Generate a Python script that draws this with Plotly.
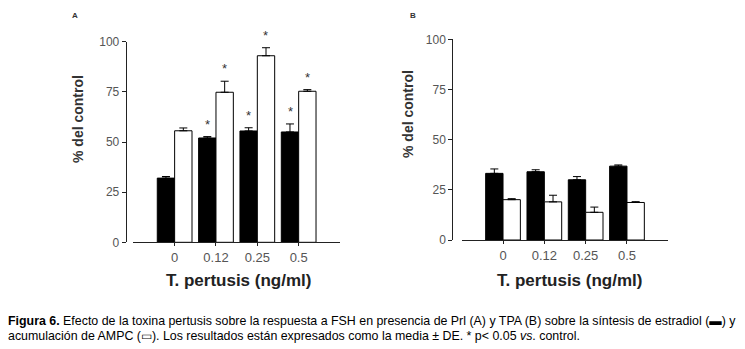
import plotly.graph_objects as go

W, H = 745, 349

categories = ["0", "0.12", "0.25", "0.5"]

# Panel A (Prl)
a_estradiol = [32.0, 52.0, 55.5, 55.0]
a_estradiol_err = [0.8, 0.7, 1.6, 4.0]
a_ampc = [55.6, 74.8, 93.0, 75.3]
a_ampc_err = [1.4, 5.5, 4.0, 0.8]
a_sig_estradiol = [False, True, True, True]
a_sig_ampc = [False, True, True, True]

# Panel B (TPA)
b_estradiol = [33.2, 34.0, 30.0, 36.8]
b_estradiol_err = [2.2, 1.0, 1.6, 0.6]
b_ampc = [20.1, 19.0, 13.8, 18.7]
b_ampc_err = [0.5, 3.3, 2.6, 0.4]

y_ticks = [0, 25, 50, 75, 100]

def px_x(p):
    return p / W

def px_y(p):
    return 1 - p / H

fig = go.Figure()

def add_panel(xa, ya, est, est_err, amp, amp_err):
    fig.add_trace(go.Bar(
        x=categories, y=est, xaxis=xa, yaxis=ya,
        marker=dict(color="black", line=dict(color="black", width=1)),
        error_y=dict(type="data", array=est_err, arrayminus=[0]*len(est_err),
                     symmetric=False, color="black", thickness=1, width=4),
        showlegend=False))
    fig.add_trace(go.Bar(
        x=categories, y=amp, xaxis=xa, yaxis=ya,
        marker=dict(color="white", line=dict(color="black", width=1)),
        error_y=dict(type="data", array=amp_err, arrayminus=[0]*len(amp_err),
                     symmetric=False, color="black", thickness=1, width=4),
        showlegend=False))

add_panel("x", "y", a_estradiol, a_estradiol_err, a_ampc, a_ampc_err)
add_panel("x2", "y2", b_estradiol, b_estradiol_err, b_ampc, b_ampc_err)

tickfont = dict(family="Liberation Sans, Arial", size=12, color="#555")

def xaxis_cfg(domain, anchor):
    return dict(domain=domain, anchor=anchor, type="category", range=[-1, 4],
                automargin=False,
                showline=True, linecolor="#222", linewidth=1,
                ticks="outside", ticklen=3, tickcolor="#222",
                tickfont=dict(family="Liberation Sans, Arial", size=13, color="#555"),
                showgrid=False, zeroline=False)

def yaxis_cfg(domain, pos):
    return dict(domain=domain, anchor="free", position=pos, range=[0, 100],
                automargin=False,
                tickvals=y_ticks, showline=True, linecolor="#222", linewidth=1,
                ticks="outside", ticklen=4, tickcolor="#222", tickfont=tickfont,
                showgrid=False, zeroline=False)

fig.update_layout(
    width=W, height=H,
    margin=dict(l=0, r=0, t=0, b=0, autoexpand=False),
    paper_bgcolor="white", plot_bgcolor="white",
    barmode="group", bargap=0.16, bargroupgap=0,
    xaxis=xaxis_cfg([px_x(133.3), px_x(340)], "y"),
    yaxis=yaxis_cfg([px_y(242.3), px_y(41.7)], px_x(125.7)),
    xaxis2=xaxis_cfg([px_x(461.7), px_x(668.3)], "y2"),
    yaxis2=yaxis_cfg([px_y(240), px_y(39.3)], px_x(452.3)),
)

# significance asterisks (x given as category index)
def add_stars(xref, yref, vals, errs, sig, shift):
    for i, (v, e, s) in enumerate(zip(vals, errs, sig)):
        if s:
            fig.add_annotation(x=i, y=v + e, xref=xref, yref=yref, text="*",
                               showarrow=False, xshift=shift, yshift=3,
                               xanchor="center", yanchor="bottom",
                               font=dict(family="Liberation Sans, Arial", size=13, color="#333"))

add_stars("x", "y", a_estradiol, a_estradiol_err, a_sig_estradiol, -8.5)
add_stars("x", "y", a_ampc, a_ampc_err, a_sig_ampc, 8.5)

# x-axis titles
for xp in [238, 569]:
    fig.add_annotation(x=px_x(xp), y=px_y(280), xref="paper", yref="paper",
                       xanchor="center", yanchor="middle",
                       text="<b>T. pertusis (ng/ml)</b>", showarrow=False,
                       font=dict(family="Liberation Sans, Arial", size=17, color="#222"))

# y-axis titles
for xp, yp in [(78, 119), (408, 114)]:
    fig.add_annotation(x=px_x(xp), y=px_y(yp), xref="paper", yref="paper",
                       xanchor="center", yanchor="middle",
                       text="<b>% del control</b>", textangle=-90, showarrow=False,
                       font=dict(family="Liberation Sans, Arial", size=14, color="#333"))

# panel letters
for txt, xp in [("A", 75), ("B", 413)]:
    fig.add_annotation(x=px_x(xp), y=px_y(15), xref="paper", yref="paper",
                       xanchor="center", yanchor="middle",
                       text="<b>" + txt + "</b>", showarrow=False,
                       font=dict(family="Liberation Sans, Arial", size=8, color="#333"))

cap1 = ("<b>Figura 6.</b> Efecto de la toxina pertusis sobre la respuesta a FSH en presencia de Prl (A) "
        "y TPA (B) sobre la síntesis de estradiol (▬) y")
cap2 = ("acumulación de AMPC (▭). Los resultados están expresados como la media ± DE. "
        "* p&lt; 0.05 <i>vs</i>. control.")
for txt, yp in [(cap1, 321), (cap2, 336)]:
    fig.add_annotation(x=px_x(6), y=px_y(yp), xref="paper", yref="paper",
                       xanchor="left", yanchor="middle", text=txt, showarrow=False,
                       font=dict(family="Liberation Sans, Arial", size=12.4, color="black"))

fig.write_html("out.html", config={"displayModeBar": False},
               post_script="document.body.style.margin='0';")
